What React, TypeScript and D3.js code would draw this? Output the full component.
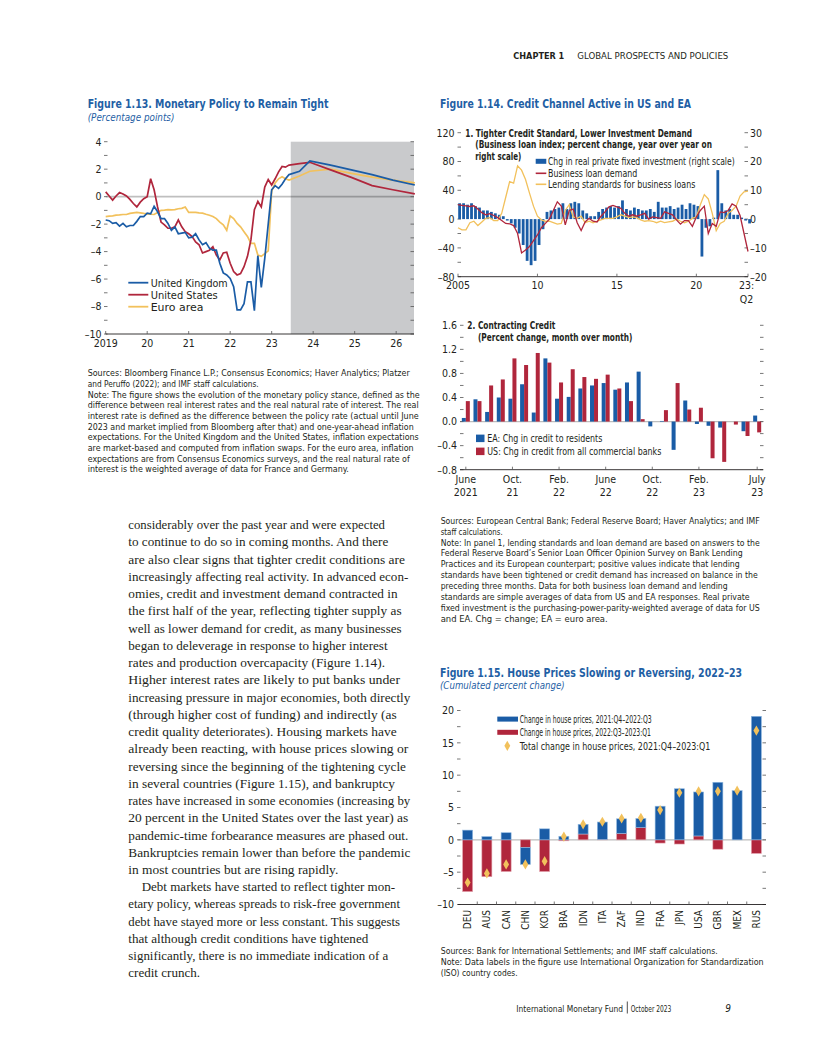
import React from "react";
import * as d3 from "d3";

const SANS = "'Liberation Sans Narrow','Arial Narrow','DejaVu Sans Condensed','Liberation Sans',sans-serif";
const SERIF = "'Liberation Serif','DejaVu Serif',serif";
const BLUE = "#1a5ca6";
const RED = "#b0263c";
const YELLOW = "#f2c15c";
const TITLE_BLUE = "#1f5fa5";
const SHADE = "#c9cacc";
const INK = "#231f20";
const TICK = "#555";

// ---------------- Figure 1.13 data ----------------
const f113YearTicks = [2019, 2020, 2021, 2022, 2023, 2024, 2025, 2026];
const f113YearLabels = ["2019", "20", "21", "22", "23", "24", "25", "26"];
// monthly history Jan 2019 – Jun 2023
const ukHist = [
  -1.7, -1.75, -1.95, -1.9, -2.15, -1.95, -2.2, -2.1, -2.1, -1.8, -1.45, -1.45,
  -1.2, -1.25, -0.7, -1.1, -1.6, -1.6, -1.95, -2.45, -2.2, -2.7, -2.65, -2.6,
  -3.0, -2.95, -2.7, -3.15, -3.5, -3.35, -3.75, -3.9, -3.9, -4.85, -5.55, -5.7,
  -5.95, -6.55, -8.25, -8.25, -7.8, -6.2, -6.2, -8.3, -4.3, -6.6, -4.5, -2.0,
  0.5, 0.8, 0.6, 0.9, 1.3, 1.6,
];
const usHist = [
  0.35, 0.05, -0.25, 0.05, 0.3, 0.2, 0.05, -0.2, -0.5, -0.75, -0.4, -0.15,
  0.0, 1.3, 0.5, -0.75, -1.85, -2.05, -2.3, -2.3, -2.2, -1.7, -2.2, -2.55,
  -2.7, -2.9, -3.3, -3.5, -4.1, -4.0, -3.9, -3.65, -4.25, -4.6, -4.1, -4.05,
  -4.85, -5.45, -5.7, -5.6, -5.1, -4.35, -3.15, -0.95, -0.35, -0.75, 0.7, 1.25,
  0.85, 1.3, 1.8, 2.2, 2.15, 2.3,
];
const eaHist = [
  -1.45, -1.42, -1.4, -1.35, -1.33, -1.3, -1.3, -1.22, -1.18, -1.15, -1.18, -1.22,
  -1.25, -1.28, -1.3, -1.15, -1.0, -0.98, -0.95, -0.97, -0.95, -0.88, -0.85, -0.75,
  -1.15, -1.15, -1.15, -1.18, -1.2, -1.28, -1.35, -1.45, -1.6, -1.85, -2.05, -2.45,
  -1.4, -1.6, -1.95, -2.2, -2.55, -2.9, -3.4, -3.4, -4.25, -4.35, -4.15, -3.95,
  0.4, 1.0, 1.3, 1.45, 1.3, 1.2,
];
const projYears = [2023.42, 2023.67, 2023.92, 2024.42, 2024.92, 2025.42, 2025.92, 2026.45];
const ukProj = [1.6, 1.85, 2.6, 2.3, 1.95, 1.6, 1.2, 0.85];
const usProj = [2.3, 2.4, 2.5, 1.95, 1.4, 0.8, 0.5, 0.2];
const eaProj = [1.2, 1.5, 1.85, 2.0, 1.7, 1.42, 1.2, 1.0];
const projStart = 2023.46;

// ---------------- Figure 1.14 panel 1 data (quarterly 2005:Q1 – 2023:Q2) ----------------
const invest = [
  5.5, 5.5, 5.0, 5.5, 4.5, 4.0, 3.0, 3.0, 2.5, 2.0, 1.5, 1.0,
  -0.5, -1.5, -3.0, -5.0, -9.0, -14.5, -16.0, -14.5, -9.0, -3.5, 2.5, 3.0,
  3.5, 4.0, 5.5, 3.5, 5.5, 6.0, 5.5, 3.0, 2.0, 1.0, 1.0, 2.5,
  3.5, 4.0, 4.5, 4.0, 4.5, 6.5, 3.5, 3.0, 4.0, 3.5, 3.0, 3.0,
  3.5, 2.5, 6.0, 4.0, 4.0, 4.5, 3.5, 4.0, 5.0, 3.5, 5.5, 5.0,
  4.5, -13.0, -3.0, -2.5, 0.5, 17.0, 5.5, 3.0, 3.5, 1.5, 1.5, 0.5,
  -0.5, -1.5,
];
const loanDemand = [
  20, 19, 18.5, 17.5, 18.5, 14, 9, 6, 7.5, 5, 2, -2,
  -6, -6.5, -9, -20, -47, -43, -38, -30, -22, -12, -6, 0,
  12, 24, 18, -8, 12, 14, -5, -16, -4, 1, -3, -4,
  4, 10, 17, 19, 17, 15, 8, 4, 6, 4, 6, 8,
  0, 3, 2, 1, 10, 8, 6, -1, -7, -2, -2, -10,
  3, 12, 18, -20, -6, -10, 10, 9, 12, 21, 18, 5,
  -20, -45,
];
const lendStd = [
  -12, -15, -15, -5, -3, -9, -4, 1, 2, -2, -2, 8,
  30, 52, 50, 74, 68, 55, 36, 18, 4, -1, -3, -3,
  -5, -7, -6, 12, 20, 3, 1, 4, -5, -3, -5, -3,
  -1, 1, 1, 1, 3, 6, 4, 2, 3, 2, -1, -3,
  -2, -3, -5, -3, -5, -4, -3, 0, -3, -5, -3, 1,
  3, 20, 34, 28, 8, -16, -6, -3, 8, 12, 18, 32,
  38, 39,
];
const p1XTicks = [2005, 2010, 2015, 2020];
const p1XLabels = ["2005", "10", "15", "20"];

// ---------------- Figure 1.14 panel 2 data (monthly June 2021 – July 2023) ----------------
const eaCredit = [0.06, 0.37, 0.16, 0.4, 0.38, 0.62, 0.15, 1.05, 0.38, 0.41, 0.55, 0.6, 0.64, 0.53, 0.65, 0.83, -0.08, 0.01, -0.47, 0.35, -0.04, -0.07, -0.1, 0.0, -0.16, 0.1];
const usCredit = [0.34, 0.34, 0.6, 0.7, 1.05, 0.94, 1.14, 0.98, 0.65, 0.87, 0.74, 0.71, 0.78, 0.55, 0.34, 0.04, 0.0, 0.19, 0.64, 0.2, 0.23, -0.61, -0.67, -0.05, -0.24, -0.18];
const p2TickIdx = [0, 4, 8, 12, 16, 20, 25];
const p2TickL1 = ["June", "Oct.", "Feb.", "June", "Oct.", "Feb.", "July"];
const p2TickL2 = ["2021", "21", "22", "22", "22", "23", "23"];

// ---------------- Figure 1.15 data ----------------
const countries = ["DEU", "AUS", "CAN", "CHN", "KOR", "BRA", "IDN", "ITA", "ZAF", "IND", "FRA", "JPN", "USA", "GBR", "MEX", "RUS"];
const chg2122 = [1.5, 0.5, 1.1, -2.6, 1.7, 0.55, 1.5, 2.7, 2.25, 1.4, 5.2, 7.9, 6.8, 8.9, 7.6, 19.1];
const chg2223 = [-8.0, -5.7, -4.9, -1.2, -4.9, -0.15, 0.9, 0.05, 1.0, 1.9, -0.5, -0.65, 0.6, -1.45, 0.0, -2.1];
const chgTotal = [-6.6, -5.2, -3.8, -3.8, -3.3, 0.5, 2.4, 2.8, 3.3, 3.4, 4.6, 7.3, 7.5, 7.5, 7.6, 16.9];

// ---------------- Text ----------------
const notes113: [string, number][] = [
  ["Sources: Bloomberg Finance L.P.; Consensus Economics; Haver Analytics; Platzer", 322],
  ["and Peruffo (2022); and IMF staff calculations.", 171],
  ["Note: The figure shows the evolution of the monetary policy stance, defined as the", 332],
  ["difference between real interest rates and the real natural rate of interest. The real", 331],
  ["interest rate is defined as the difference between the policy rate (actual until June", 331],
  ["2023 and market implied from Bloomberg after that) and one-year-ahead inflation", 326],
  ["expectations. For the United Kingdom and the United States, inflation expectations", 331],
  ["are market-based and computed from inflation swaps. For the euro area, inflation", 326],
  ["expectations are from Consensus Economics surveys, and the real natural rate of", 322],
  ["interest is the weighted average of data for France and Germany.", 261],
];
const notes114: [string, number][] = [
  ["Sources: European Central Bank; Federal Reserve Board; Haver Analytics; and IMF", 319],
  ["staff calculations.", 62],
  ["Note: In panel 1, lending standards and loan demand are based on answers to the", 319],
  ["Federal Reserve Board\u2019s Senior Loan Officer Opinion Survey on Bank Lending", 302],
  ["Practices and its European counterpart; positive values indicate that lending", 299],
  ["standards have been tightened or credit demand has increased on balance in the", 317],
  ["preceding three months. Data for both business loan demand and lending", 287],
  ["standards are simple averages of data from US and EA responses. Real private", 309],
  ["fixed investment is the purchasing-power-parity-weighted average of data for US", 319],
  ["and EA. Chg = change; EA = euro area.", 167],
];
const notes115: [string, number][] = [
  ["Sources: Bank for International Settlements; and IMF staff calculations.", 277],
  ["Note: Data labels in the figure use International Organization for Standardization", 323],
  ["(ISO) country codes.", 77],
];
const bodyLines: [string, number, number][] = [
  ["considerably over the past year and were expected", 256.7, 0],
  ["to continue to do so in coming months. And there", 260, 0],
  ["are also clear signs that tighter credit conditions are", 276.7, 0],
  ["increasingly affecting real activity. In advanced econ-", 280, 0],
  ["omies, credit and investment demand contracted in", 269.3, 0],
  ["the first half of the year, reflecting tighter supply as", 273.3, 0],
  ["well as lower demand for credit, as many businesses", 273.3, 0],
  ["began to deleverage in response to higher interest", 259.3, 0],
  ["rates and production overcapacity (Figure 1.14).", 256.7, 0],
  ["Higher interest rates are likely to put banks under", 271.7, 0],
  ["increasing pressure in major economies, both directly", 282, 0],
  ["(through higher cost of funding) and indirectly (as", 268.3, 0],
  ["credit quality deteriorates). Housing markets have", 268.3, 0],
  ["already been reacting, with house prices slowing or", 280, 0],
  ["reversing since the beginning of the tightening cycle", 277.7, 0],
  ["in several countries (Figure 1.15), and bankruptcy", 266.7, 0],
  ["rates have increased in some economies (increasing by", 282, 0],
  ["20 percent in the United States over the last year) as", 280, 0],
  ["pandemic-time forbearance measures are phased out.", 280, 0],
  ["Bankruptcies remain lower than before the pandemic", 282, 0],
  ["in most countries but are rising rapidly.", 210, 0],
  ["Debt markets have started to reflect tighter mon-", 253.3, 13.4],
  ["etary policy, whereas spreads to risk-free government", 271.7, 0],
  ["debt have stayed more or less constant. This suggests", 271.7, 0],
  ["that although credit conditions have tightened", 240, 0],
  ["significantly, there is no immediate indication of a", 260, 0],
  ["credit crunch.", 71.7, 0],
];

const neg = (v: number, d = 0) => (v < 0 ? "\u2013" : "") + Math.abs(v).toFixed(d);

function T(props: any) {
  const { x, y, w, size = 9, weight, fill = INK, anchor, italic, family = SANS, children, transform, ls } = props;
  return (
    <text
      x={x}
      y={y}
      fontSize={size}
      fontFamily={family}
      fontWeight={weight}
      fontStyle={italic ? "italic" : undefined}
      fill={fill}
      textAnchor={anchor}
      transform={transform}
      letterSpacing={ls}
      textLength={w}
      lengthAdjust={w ? "spacingAndGlyphs" : undefined}
    >
      {children}
    </text>
  );
}

function Lines({ x, y0, lh, lines, size = 9 }: any) {
  return (
    <g>
      {lines.map((l: [string, number], i: number) => (
        <T key={i} x={x} y={y0 + i * lh} w={l[1]} size={size}>
          {l[0]}
        </T>
      ))}
    </g>
  );
}

function Fig113() {
  const x = d3.scaleLinear().domain([2019, 2026.43]).range([105.7, 414]);
  const y = d3.scaleLinear().domain([-10, 4]).range([334, 141.7]);
  const line = d3.line<[number, number]>().x((d) => x(d[0])).y((d) => y(d[1]));
  const build = (hist: number[], proj: number[]): [number, number][] => [
    ...hist.map((v, m) => [2019 + m / 12, v] as [number, number]),
    ...projYears.map((t, i) => [t, proj[i]] as [number, number]),
  ];
  const ticks = d3.range(-10, 5, 1);
  const [x0, x1] = x.range();
  const legend = [
    { c: BLUE, t: "United Kingdom", w: 77 },
    { c: RED, t: "United States", w: 67 },
    { c: YELLOW, t: "Euro area", w: 52.7 },
  ];
  return (
    <g>
      <T x={87.7} y={108.3} w={240.7} size={12.5} weight="bold" fill={TITLE_BLUE}>
        Figure 1.13.  Monetary Policy to Remain Tight
      </T>
      <T x={87.7} y={120.5} w={86.7} size={10} italic fill={TITLE_BLUE}>
        (Percentage points)
      </T>
      <rect x={x(projStart)} y={y(4)} width={x1 - x(projStart)} height={y(-10) - y(4)} fill={SHADE} />
      <line x1={x0} x2={x1} y1={y(0)} y2={y(0)} stroke="rgba(0,0,0,0.25)" strokeWidth={1.6} />
      {ticks.map((t) => (
        <g key={t}>
          <line x1={104} x2={107.5} y1={y(t)} y2={y(t)} stroke={TICK} strokeWidth={0.8} />
          <line x1={410.5} x2={414} y1={y(t)} y2={y(t)} stroke={TICK} strokeWidth={0.8} />
          {t % 2 === 0 && (
            <T x={101.5} y={y(t) + 3.8} size={10.5} anchor="end">
              {neg(t)}
            </T>
          )}
        </g>
      ))}
      <line x1={x0} x2={x1} y1={y(-10)} y2={y(-10)} stroke={INK} strokeWidth={0.9} />
      {f113YearTicks.map((t, i) => (
        <g key={t}>
          <line x1={x(t)} x2={x(t)} y1={y(-10)} y2={y(-10) - 3} stroke={TICK} strokeWidth={0.8} />
          <T x={x(t)} y={347} size={10.5} anchor="middle">
            {f113YearLabels[i]}
          </T>
        </g>
      ))}
      <path d={line(build(eaHist, eaProj)) || ""} fill="none" stroke={YELLOW} strokeWidth={1.7} />
      <path d={line(build(usHist, usProj)) || ""} fill="none" stroke={RED} strokeWidth={1.7} />
      <path d={line(build(ukHist, ukProj)) || ""} fill="none" stroke={BLUE} strokeWidth={1.7} />
      {legend.map((l, i) => (
        <g key={l.t}>
          <line x1={128.3} x2={148.3} y1={282.7 + i * 12} y2={282.7 + i * 12} stroke={l.c} strokeWidth={1.8} />
          <T x={150.7} y={286.5 + i * 12} w={l.w} size={10.5}>
            {l.t}
          </T>
        </g>
      ))}
      <Lines x={87.7} y0={376.3} lh={10.67} lines={notes113} />
    </g>
  );
}

function Panel1() {
  const x = d3.scaleLinear().domain([2005, 2023.25]).range([458, 748]);
  const yL = d3.scaleLinear().domain([-80, 120]).range([276.7, 132.7]);
  const yR = d3.scaleLinear().domain([-20, 30]).range([276.7, 132.7]);
  const q = (i: number) => 2005 + i / 4;
  const line = d3.line<number>().x((_, i) => x(q(i))).y((d) => yL(d));
  const bw = 2.8;
  return (
    <g>
      <T x={465.3} y={136.5} w={226.7} size={9.8} weight="bold">
        1. Tighter Credit Standard, Lower Investment Demand
      </T>
      <T x={475.3} y={148.2} w={236.7} size={9.8} weight="bold">
        (Business loan index; percent change, year over year on
      </T>
      <T x={475.3} y={160} w={46} size={9.8} weight="bold">
        right scale)
      </T>
      {d3.range(-80, 121, 20).map((t) => (
        <g key={t}>
          <line x1={457.5} x2={461} y1={yL(t)} y2={yL(t)} stroke={TICK} strokeWidth={0.8} />
          {t % 40 === 0 && (
            <T x={454.5} y={yL(t) + 3.8} size={10.5} anchor="end">
              {neg(t)}
            </T>
          )}
        </g>
      ))}
      {d3.range(-20, 31, 5).map((t) => (
        <g key={t}>
          <line x1={744.5} x2={748} y1={yR(t)} y2={yR(t)} stroke={TICK} strokeWidth={0.8} />
          {t % 10 === 0 && (
            <T x={750} y={yR(t) + 3.8} size={10.5}>
              {neg(t)}
            </T>
          )}
        </g>
      ))}
      {invest.map((v, i) => (
        <rect
          key={i}
          x={x(q(i)) + 0.2}
          y={yR(Math.max(0, v))}
          width={bw}
          height={Math.abs(yR(v) - yR(0))}
          fill={BLUE}
        />
      ))}
      <path d={line(lendStd) || ""} fill="none" stroke={YELLOW} strokeWidth={1.3} />
      <path d={line(loanDemand) || ""} fill="none" stroke={RED} strokeWidth={1.3} />
      <line x1={458} x2={748} y1={yL(-80)} y2={yL(-80)} stroke={INK} strokeWidth={0.9} />
      {p1XTicks.map((t, i) => (
        <g key={t}>
          <line x1={x(t)} x2={x(t)} y1={yL(-80)} y2={yL(-80) - 3} stroke={TICK} strokeWidth={0.8} />
          <T x={x(t)} y={289} size={10.5} anchor="middle">
            {p1XLabels[i]}
          </T>
        </g>
      ))}
      <line x1={x(2023.25)} x2={x(2023.25)} y1={yL(-80)} y2={yL(-80) - 3} stroke={TICK} strokeWidth={0.8} />
      <T x={x(2023.25) - 1.5} y={289} size={10.5} anchor="middle">23:</T>
      <T x={x(2023.25) - 1.5} y={302.5} size={10.5} anchor="middle">Q2</T>
      {/* legend */}
      <rect x={535.7} y={158.8} width={10.6} height={5} fill={BLUE} />
      <T x={548} y={165.4} w={186.7} size={9.6}>Chg in real private fixed investment (right scale)</T>
      <line x1={535.7} x2={546.3} y1={173.3} y2={173.3} stroke={RED} strokeWidth={1.6} />
      <T x={548} y={176.9} w={89.3} size={9.6}>Business loan demand</T>
      <line x1={535.7} x2={546.3} y1={184.3} y2={184.3} stroke={YELLOW} strokeWidth={1.6} />
      <T x={548} y={187.9} w={147.3} size={9.6}>Lending standards for business loans</T>
    </g>
  );
}

function Panel2() {
  const x = d3.scaleBand<number>().domain(d3.range(eaCredit.length)).range([460, 763]);
  const y = d3.scaleLinear().domain([-0.8, 1.6]).range([469.7, 325.3]);
  const c = (i: number) => (x(i) as number) + x.bandwidth() / 2;
  const bw = 4;
  const ticks = d3.range(-4, 9, 1).map((k) => k * 0.2);
  return (
    <g>
      <T x={467.3} y={329.2} w={88} size={9.8} weight="bold">2. Contracting Credit</T>
      <T x={478} y={341.2} w={154.3} size={9.8} weight="bold">(Percent change, month over month)</T>
      <line x1={460} x2={763} y1={y(0)} y2={y(0)} stroke="#bdbdbd" strokeWidth={1.2} />
      {ticks.map((t, k) => (
        <g key={k}>
          <line x1={460} x2={463.5} y1={y(t)} y2={y(t)} stroke={TICK} strokeWidth={0.8} />
          <line x1={760} x2={763.5} y1={y(t)} y2={y(t)} stroke={TICK} strokeWidth={0.8} />
          {k % 2 === 0 && (
            <T x={457} y={y(t) + 3.8} size={10.5} anchor="end">
              {neg(Math.round(t * 10) / 10, 1)}
            </T>
          )}
        </g>
      ))}
      {eaCredit.map((v, i) => (
        <rect key={"e" + i} x={c(i) - bw} y={y(Math.max(0, v))} width={bw} height={Math.abs(y(v) - y(0))} fill={BLUE} />
      ))}
      {usCredit.map((v, i) => (
        <rect key={"u" + i} x={c(i)} y={y(Math.max(0, v))} width={bw} height={Math.abs(y(v) - y(0))} fill={RED} />
      ))}
      <line x1={460} x2={763} y1={y(-0.8)} y2={y(-0.8)} stroke={INK} strokeWidth={0.9} />
      {p2TickIdx.map((idx, i) => (
        <g key={idx}>
          <line x1={c(idx)} x2={c(idx)} y1={y(-0.8)} y2={y(-0.8) - 3} stroke={TICK} strokeWidth={0.8} />
          <T x={c(idx)} y={483} size={10.5} anchor="middle">{p2TickL1[i]}</T>
          <T x={c(idx)} y={495.5} size={10.5} anchor="middle">{p2TickL2[i]}</T>
        </g>
      ))}
      <rect x={476} y={434.6} width={8.5} height={7.5} fill={BLUE} />
      <T x={487.3} y={442} w={115} size={9.8}>EA: Chg in credit to residents</T>
      <rect x={476} y={447.6} width={8.5} height={7.5} fill={RED} />
      <T x={487.3} y={455} w={174} size={9.8}>US: Chg in credit from all commercial banks</T>
    </g>
  );
}

function Fig114() {
  return (
    <g>
      <T x={440} y={108.3} w={251} size={12.5} weight="bold" fill={TITLE_BLUE}>
        Figure 1.14.  Credit Channel Active in US and EA
      </T>
      <Panel1 />
      <Panel2 />
      <Lines x={440.7} y0={523.7} lh={10.92} lines={notes114} />
    </g>
  );
}

function Fig115() {
  const x = d3.scaleBand<string>().domain(countries).range([458, 766]);
  const y = d3.scaleLinear().domain([-10, 20]).range([904.5, 710.5]);
  const c = (k: string) => (x(k) as number) + x.bandwidth() / 2;
  const bw = 10;
  const rows = countries.map((k, i) => ({ k, second: chg2223[i], first: chg2122[i] }));
  const stack = d3.stack<any>().keys(["second", "first"]).offset(d3.stackOffsetDiverging)(rows);
  const colors: Record<string, string> = { first: BLUE, second: RED };
  const strokes: Record<string, string> = { first: "#8fb8e0", second: "#e3a1ac" };
  const diamond = d3.symbol().type(d3.symbolDiamond).size(30)() || "";
  const ticks = d3.range(-10, 20.1, 2.5);
  return (
    <g>
      <T x={440} y={677} w={302} size={12.5} weight="bold" fill={TITLE_BLUE}>
        Figure 1.15.  House Prices Slowing or Reversing, 2022–23
      </T>
      <T x={440} y={689.2} w={124.7} size={10} italic fill={TITLE_BLUE}>
        (Cumulated percent change)
      </T>
      <line x1={458} x2={766} y1={y(0)} y2={y(0)} stroke="#bdbdbd" strokeWidth={1.2} />
      {ticks.map((t) => (
        <g key={t}>
          <line x1={457} x2={460.5} y1={y(t)} y2={y(t)} stroke={TICK} strokeWidth={0.8} />
          <line x1={762.5} x2={766} y1={y(t)} y2={y(t)} stroke={TICK} strokeWidth={0.8} />
          {t % 5 === 0 && (
            <T x={454} y={y(t) + 3.8} size={10.5} anchor="end">{neg(t)}</T>
          )}
        </g>
      ))}
      {stack.map((s) =>
        s.map((d, i) => {
          const k = countries[i];
          const h = Math.abs(y(d[0]) - y(d[1]));
          if (h < 0.01) return null;
          return (
            <rect
              key={s.key + k}
              x={c(k) - bw / 2}
              y={Math.min(y(d[0]), y(d[1]))}
              width={bw}
              height={h}
              fill={colors[s.key]}
              stroke={strokes[s.key]}
              strokeWidth={0.6}
            />
          );
        })
      )}
      {chgTotal.map((v, i) => (
        <path key={i} d={diamond} transform={`translate(${c(countries[i])},${y(v)})`} fill={YELLOW} />
      ))}
      <line x1={458} x2={766} y1={y(-10)} y2={y(-10)} stroke={INK} strokeWidth={0.9} />
      {countries.map((k, i) => (
        <g key={k}>
          {i > 0 && (
            <line x1={x(k)} x2={x(k)} y1={y(-10)} y2={y(-10) - 3} stroke={TICK} strokeWidth={0.8} />
          )}
          <T x={0} y={0} size={10} anchor="end" transform={`translate(${c(k) + 3.6},910) rotate(-90)`}>
            {k}
          </T>
        </g>
      ))}
      <rect x={497.3} y={716.6} width={20.7} height={5} fill={BLUE} />
      <T x={519.7} y={723.2} w={132} size={9.8}>Change in house prices, 2021:Q4–2022:Q3</T>
      <rect x={497.3} y={729.8} width={20.7} height={5} fill={RED} />
      <T x={519.7} y={736.4} w={131.3} size={9.8}>Change in house prices, 2022:Q3–2023:Q1</T>
      <path d={diamond} transform="translate(507.3,745.8)" fill={YELLOW} />
      <T x={519.7} y={749.7} w={190.7} size={9.8}>Total change in house prices, 2021:Q4–2023:Q1</T>
      <Lines x={440.7} y0={953.8} lh={11.3} lines={notes115} />
    </g>
  );
}

function Body() {
  return (
    <g>
      {bodyLines.map((l, i) => (
        <T key={i} x={128.3 + l[2]} y={529.2 + i * 17.24} w={l[1]} size={13.2} family={SERIF}>
          {l[0]}
        </T>
      ))}
    </g>
  );
}

function HeaderFooter() {
  return (
    <g>
      <T x={513.3} y={58.6} w={51} size={9} weight="bold">CHAPTER 1</T>
      <T x={577.3} y={58.6} w={151} size={9}>GLOBAL PROSPECTS AND POLICIES</T>
      <T x={516.3} y={1011.5} w={106.7} size={9.3}>International Monetary Fund</T>
      <line x1={627.3} x2={627.3} y1={1001.5} y2={1013.5} stroke={INK} strokeWidth={0.8} />
      <T x={630.7} y={1011.5} w={40.6} size={9}>October 2023</T>
      <T x={725.3} y={1011.5} size={10} italic>9</T>
    </g>
  );
}

export default function App() {
  return (
    <svg width={816} height={1056} viewBox="0 0 816 1056" style={{ position: "absolute", left: 0, top: 0 }}>
      <rect width={816} height={1056} fill="#fff" />
      <HeaderFooter />
      <Fig113 />
      <Fig114 />
      <Fig115 />
      <Body />
    </svg>
  );
}
